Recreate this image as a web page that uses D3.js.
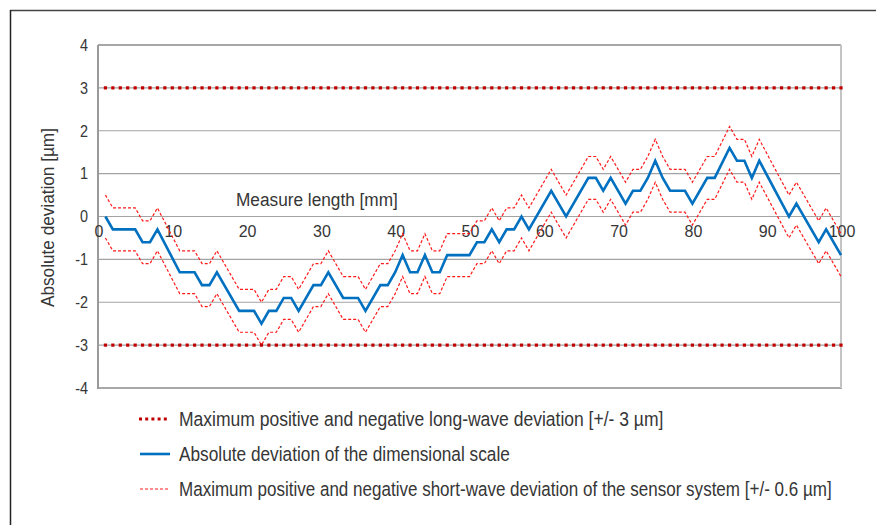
<!DOCTYPE html>
<html>
<head>
<meta charset="utf-8">
<script src="https://cdn.jsdelivr.net/npm/d3@7/dist/d3.min.js"></script>
<style>
  html, body { margin: 0; padding: 0; background: #fff; }
  svg { display: block; }
  text { font-family: "Liberation Sans", Arial, sans-serif; fill: #363636; }
</style>
</head>
<body>
<svg id="chart" width="876" height="525"></svg>
<script>
// Measuring positions [mm] where the deviation profile changes direction
const measurePos = [1,2,5,6,7,8,11,13,14,15,16,19,21,22,23,24,25,26,27,29,30,31,33,35,36,38,39,40,41,42,43,44,45,46,47,50,51,52,53,54,55,56,57,58,61,63,66,67,68,69,71,72,73,74,75,76,77,79,80,82,83,85,86,87,88,89,93,94,97,98,100];

// Absolute deviation of the dimensional scale [µm]
const absDeviation = [0,-0.3,-0.3,-0.6,-0.6,-0.3,-1.3,-1.3,-1.6,-1.6,-1.3,-2.2,-2.2,-2.5,-2.2,-2.2,-1.9,-1.9,-2.2,-1.6,-1.6,-1.3,-1.9,-1.9,-2.2,-1.6,-1.6,-1.3,-0.9,-1.3,-1.3,-0.9,-1.3,-1.3,-0.9,-0.9,-0.6,-0.6,-0.3,-0.6,-0.3,-0.3,0,-0.3,0.6,0,0.9,0.9,0.6,0.9,0.3,0.6,0.6,0.9,1.3,0.9,0.6,0.6,0.3,0.9,0.9,1.6,1.3,1.3,0.9,1.3,0,0.3,-0.6,-0.3,-0.9];

// Short-wave band of the sensor system, upper and lower edge [µm]
const shortWaveUpper = [0.5,0.2,0.2,-0.1,-0.1,0.2,-0.8,-0.8,-1.1,-1.1,-0.8,-1.7,-1.7,-2.0,-1.7,-1.7,-1.4,-1.4,-1.7,-1.1,-1.1,-0.8,-1.4,-1.4,-1.7,-1.1,-1.1,-0.8,-0.4,-0.8,-0.8,-0.4,-0.8,-0.8,-0.4,-0.4,-0.1,-0.1,0.2,-0.1,0.2,0.2,0.5,0.2,1.1,0.5,1.4,1.4,1.1,1.4,0.8,1.1,1.1,1.4,1.8,1.4,1.1,1.1,0.8,1.4,1.4,2.1,1.8,1.8,1.4,1.8,0.5,0.8,-0.1,0.2,-0.4];
const shortWaveLower = [-0.5,-0.8,-0.8,-1.1,-1.1,-0.8,-1.8,-1.8,-2.1,-2.1,-1.8,-2.7,-2.7,-3.0,-2.7,-2.7,-2.4,-2.4,-2.7,-2.1,-2.1,-1.8,-2.4,-2.4,-2.7,-2.1,-2.1,-1.8,-1.4,-1.8,-1.8,-1.4,-1.8,-1.8,-1.4,-1.4,-1.1,-1.1,-0.8,-1.1,-0.8,-0.8,-0.5,-0.8,0.1,-0.5,0.4,0.4,0.1,0.4,-0.2,0.1,0.1,0.4,0.8,0.4,0.1,0.1,-0.2,0.4,0.4,1.1,0.8,0.8,0.4,0.8,-0.5,-0.2,-1.1,-0.8,-1.4];

// Long-wave limits [µm], marked at every millimetre from 1 to 100
const longWaveLimits = [3, -3];
const markerPos = d3.range(1, 101);

const xTicks = [0,10,20,30,40,50,60,70,80,90,100];
const yTicks = [-4,-3,-2,-1,0,1,2,3,4];

const legendLabels = [
  "Maximum positive and negative long-wave deviation [+/- 3 µm]",
  "Absolute deviation of the dimensional scale",
  "Maximum positive and negative short-wave deviation of the sensor system [+/- 0.6 µm]"
];
// set widths of the condensed legend lines
const legendWidths = [485, 331, 653];

const svg = d3.select("#chart");

// Condensed text: a text placed in a group at (tx, ty), rotated by rot,
// squeezed horizontally to the given width. anchor 0 = start, 0.5 = middle.
function condensedText(parent, label, tx, ty, rot, size, width, anchor) {
  const g = parent.append("g").attr("transform", `translate(${tx},${ty}) rotate(${rot})`);
  const t = g.append("text").attr("font-size", size).text(label);
  const k = Math.min(1, width / t.node().getComputedTextLength());
  t.attr("transform", `translate(${-anchor * width},0) scale(${k},1)`);
  return t;
}

// outer frame
svg.append("line").attr("x1", 10).attr("x2", 876).attr("y1", 10.5).attr("y2", 10.5)
  .attr("stroke", "#444").attr("stroke-width", 1.5);
svg.append("line").attr("x1", 10.5).attr("x2", 10.5).attr("y1", 10).attr("y2", 525)
  .attr("stroke", "#222").attr("stroke-width", 1.5);

const x = d3.scaleLinear().domain([0, 100]).range([98, 841]);
const y = d3.scaleLinear().domain([-4, 4]).range([388, 45]);

// horizontal gridlines
svg.append("g").selectAll("line").data(yTicks.filter(d => d > -4 && d < 4)).join("line")
  .attr("x1", x(0)).attr("x2", x(100))
  .attr("y1", d => y(d)).attr("y2", d => y(d))
  .attr("stroke", "#a3a3a3").attr("stroke-width", 1.2);

// plot border
svg.append("line").attr("x1", x(0)).attr("x2", x(100)).attr("y1", y(4)).attr("y2", y(4))
  .attr("stroke", "#8a8a8a").attr("stroke-width", 1.3);
svg.append("line").attr("x1", x(0)).attr("x2", x(100) + 1).attr("y1", y(-4)).attr("y2", y(-4))
  .attr("stroke", "#a8a8a8").attr("stroke-width", 2);
svg.append("line").attr("x1", x(100)).attr("x2", x(100)).attr("y1", y(4)).attr("y2", y(-4))
  .attr("stroke", "#c4c4c4").attr("stroke-width", 2);
svg.append("line").attr("x1", x(0)).attr("x2", x(0)).attr("y1", y(4)).attr("y2", y(-4) + 1)
  .attr("stroke", "#9a9a9a").attr("stroke-width", 2);

// y tick labels
svg.append("g").attr("transform", "translate(88,0) scale(0.9,1)")
  .selectAll("text").data(yTicks).join("text")
  .attr("x", 0).attr("y", d => y(d)).attr("dy", "0.36em")
  .attr("text-anchor", "end").attr("font-size", 16)
  .text(d => d);

// x tick labels, sitting just under the zero line
svg.append("g").selectAll("text").data(xTicks).join("text")
  .attr("x", d => x(d) + 1).attr("y", y(0) + 15).attr("dy", "0.36em")
  .attr("text-anchor", "middle").attr("font-size", 16)
  .text(d => d);

// axis titles
condensedText(svg, "Measure length [mm]", 236, 206, 0, 19, 162, 0);
condensedText(svg, "Absolute deviation [µm]", 54, 217.5, -90, 19, 179, 0.5);

const line = d3.line().x(d => x(d[0])).y(d => y(d[1]));

// short-wave band
[shortWaveUpper, shortWaveLower].forEach(vals => {
  svg.append("path")
    .attr("d", line(measurePos.map((p, i) => [p, vals[i]])))
    .attr("fill", "none").attr("stroke", "#ff1a1a").attr("stroke-width", 1.2)
    .attr("stroke-dasharray", "3,2");
});

// absolute deviation
svg.append("path")
  .attr("d", line(measurePos.map((p, i) => [p, absDeviation[i]])))
  .attr("fill", "none").attr("stroke", "#0070c0").attr("stroke-width", 2.6)
  .attr("stroke-linejoin", "miter");

// long-wave limit markers
longWaveLimits.forEach(v => {
  svg.append("g").selectAll("rect").data(markerPos).join("rect")
    .attr("x", d => x(d) - 1.6).attr("y", y(v) - 1.6)
    .attr("width", 3.2).attr("height", 3.2)
    .attr("fill", "#c00000");
});

// legend
const legendY = [419, 454, 489];
const lg = svg.append("g");
lg.append("line").attr("x1", 139).attr("x2", 170).attr("y1", legendY[0]).attr("y2", legendY[0])
  .attr("stroke", "#c00000").attr("stroke-width", 3).attr("stroke-dasharray", "3,3.2");
lg.append("line").attr("x1", 140).attr("x2", 170).attr("y1", legendY[1]).attr("y2", legendY[1])
  .attr("stroke", "#0070c0").attr("stroke-width", 2.6);
lg.append("line").attr("x1", 140).attr("x2", 170).attr("y1", legendY[2]).attr("y2", legendY[2])
  .attr("stroke", "#ff1a1a").attr("stroke-width", 1.1).attr("stroke-dasharray", "3,2");
legendLabels.forEach((label, i) => {
  condensedText(lg, label, 179, legendY[i] + 7, 0, 19.5, legendWidths[i], 0);
});
</script>
</body>
</html>
